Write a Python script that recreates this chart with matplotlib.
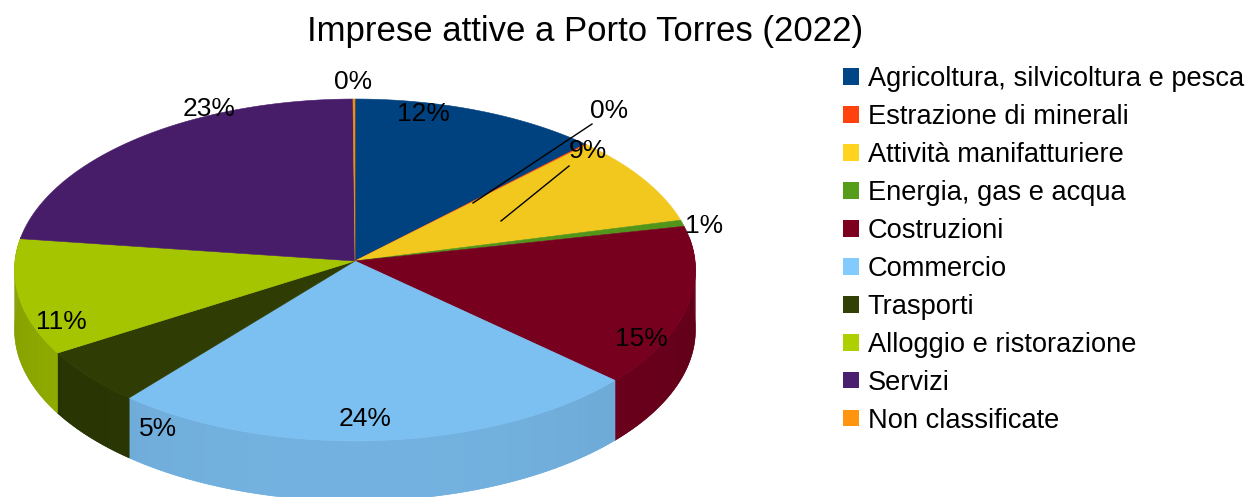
import matplotlib
matplotlib.use("Agg")
import matplotlib.pyplot as plt
from matplotlib.patches import Patch
import numpy as np

plt.rcParams['font.family'] = ['Liberation Sans', 'DejaVu Sans']

categories = ['Agricoltura, silvicoltura e pesca', 'Estrazione di minerali',
              'Attività manifatturiere', 'Energia, gas e acqua', 'Costruzioni',
              'Commercio', 'Trasporti', 'Alloggio e ristorazione', 'Servizi',
              'Non classificate']
values = [12.4, 0.1, 8.6, 0.6, 15.1, 24.2, 5.2, 10.9, 22.8, 0.1]
colors = ['#004586', '#ff420e', '#ffd320', '#579d1c', '#7e0021',
          '#83caff', '#314004', '#aecf00', '#4b1f6f', '#ff950e']

# centre of each percentage label, in figure pixels
label_pos = [(423, 114), (609, 111), (588, 151), (704, 226), (641, 339),
             (365, 419), (158, 429), (61, 322), (209, 109), (353, 82)]

CX, CY = 355, 261     # pie apex
RX, RY = 340, 170.5   # disc radii
PERSP = 0.0526        # near edge of the disc looks bigger
DEPTH = 60


def disc(theta):
    # theta runs clockwise from twelve o'clock
    u, v = np.sin(theta), np.cos(theta)
    w = 1 + PERSP * v
    return CX + RX * u / w, CY - RY * v / w


def shade(color, f):
    return tuple(c * f for c in matplotlib.colors.to_rgb(color))


def wall_shade(theta):
    # front of the wall catches more light than its flanks
    return 0.76 + 0.12 * np.abs(np.cos(theta - np.pi))


fig = plt.figure(figsize=(12.48, 4.97), dpi=100)
ax = fig.add_axes([0, 0, 1, 1])
ax.set_xlim(0, 1248)
ax.set_ylim(497, 0)
ax.axis('off')

shares = np.array(values) / sum(values)
edges = np.concatenate([[0], np.cumsum(shares)]) * 2 * np.pi

# side wall: one base shape per slice, then short strips on it for the shading
for a0, a1, col in zip(edges[:-1], edges[1:], colors):
    lo, hi = max(a0, np.radians(82)), min(a1, np.radians(278))
    if hi <= lo:
        continue
    t = np.linspace(lo, hi, max(2, int((hi - lo) * 40)))
    x, y = disc(t)
    base = shade(col, wall_shade((lo + hi) / 2))
    ax.fill(np.r_[x, x[::-1]], np.r_[y, y[::-1] + DEPTH], facecolor=base,
            edgecolor=base, linewidth=0.4)
    for t0, t1 in zip(t[:-1], t[1:]):
        x0, y0 = disc(t0)
        x1, y1 = disc(t1)
        ax.fill([x0, x1, x1, x0], [y0, y1, y1 + DEPTH, y0 + DEPTH],
                facecolor=shade(col, wall_shade((t0 + t1) / 2)), edgecolor='none')

# top face
for a0, a1, col in zip(edges[:-1], edges[1:], colors):
    t = np.linspace(a0, a1, max(2, int((a1 - a0) * 120)))
    x, y = disc(t)
    c = shade(col, 0.95)
    ax.fill(np.r_[CX, x], np.r_[CY, y], facecolor=c, edgecolor=c, linewidth=0.4)

# leader lines of the two labels pulled away from their slices
ax.plot([592, 473], [124, 203], color='black', linewidth=1)
ax.plot([569, 501], [166, 221], color='black', linewidth=1)

for v, (lx, ly) in zip(values, label_pos):
    ax.text(lx, ly, f'{v:.0f}%', fontsize=19, ha='center', va='center', color='black')

ax.text(585, 31, 'Imprese attive a Porto Torres (2022)', fontsize=25,
        ha='center', va='center', color='black')

handles = [Patch(facecolor=c, edgecolor='none', label=n) for c, n in zip(colors, categories)]
ax.legend(handles=handles, loc='upper left', bbox_to_anchor=(843 / 1248, 1 - 66 / 497),
          frameon=False, fontsize=19.6, borderpad=0, borderaxespad=0,
          handlelength=0.6, handleheight=0.56, handletextpad=0.3, labelspacing=0.44)

fig.savefig('out.png', dpi=100)
